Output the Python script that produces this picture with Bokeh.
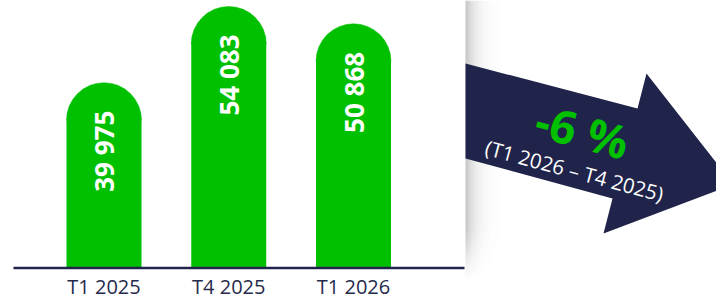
import math
from bokeh.plotting import figure
from bokeh.models import Range1d, ColumnDataSource
from bokeh.core.properties import value
from bokeh.embed import file_html
from bokeh.resources import INLINE

# ---- data ----
categories = ["T1 2025", "T4 2025", "T1 2026"]
values = [39975, 54083, 50868]

# ---- style / layout ----
GREEN = "#00c000"
NAVY = "#20244a"
LABEL_NAVY = "#262a4c"
W, H = 716, 300

BASE_VALUE = 5600          # value sitting on the baseline
UNITS_PER_PX = 185.0
BASE_PX_FROM_BOTTOM = 32
y_start = BASE_VALUE - BASE_PX_FROM_BOTTOM * UNITS_PER_PX
y_end = y_start + H * UNITS_PER_PX

X_PX_PER_UNIT = 124.75
X0_PX = 103.5
x_start = -X0_PX / X_PX_PER_UNIT
x_end = x_start + W / X_PX_PER_UNIT

R_PX = 37.5                 # cap radius (half bar width)
BAR_W = 2 * R_PX / X_PX_PER_UNIT

p = figure(width=W, height=H,
           x_range=Range1d(x_start, x_end), y_range=Range1d(y_start, y_end),
           x_axis_location=None, y_axis_location=None,
           output_backend="svg", toolbar_location=None, min_border=0,
           outline_line_color=None, background_fill_color="white",
           border_fill_color="white")
p.xgrid.visible = False
p.ygrid.visible = False
p.extra_x_ranges = {"px": Range1d(0, W)}
p.extra_y_ranges = {"px": Range1d(H, 0)}

# ---- panel shadow (decoration) ----
EDGE = 465
sl, sr, st, sb, sa = [], [], [], [], []
rows = [(0, 228, 1.0)]
for j in range(13):
    y0 = 228 + j * 4
    rows.append((y0, y0 + 4, max(0.0, 1.0 - (j + 0.5) / 13)))
for i in range(38):
    a = 0.24 * math.exp(-i / 9.0)
    for (y0, y1, f) in rows:
        sl.append(EDGE + i); sr.append(EDGE + i + 1)
        st.append(y0); sb.append(y1); sa.append(a * f)
p.quad(left=sl, right=sr, top=st, bottom=sb, fill_color="black", fill_alpha=sa,
       line_color=None, x_range_name="px", y_range_name="px")

# ---- arrow (decoration) ----
ax = [465, 637, 646, 733, 603, 612, 465]
ay = [63, 108, 73, 184, 233, 198, 158]
p.patch(ax, ay, fill_color=NAVY, line_color=None, x_range_name="px", y_range_name="px")

# ---- bars ----
idx = list(range(len(categories)))
cap_centers = [v - R_PX * UNITS_PER_PX for v in values]
src = ColumnDataSource(dict(
    x=idx, v=values, cap=cap_centers,
    body_top=[c + 1.0 * UNITS_PER_PX for c in cap_centers],
    label=[f"{v:,}".replace(",", " ") for v in values],
    cat=categories,
    base=[BASE_VALUE] * len(values),
))
p.vbar(x="x", width=BAR_W, bottom="base", top="body_top", source=src,
       fill_color=GREEN, line_color=None)
p.wedge(x="x", y="cap", radius=R_PX, radius_units="screen", start_angle=0,
        end_angle=math.pi, source=src, fill_color=GREEN, line_color=GREEN, line_width=0.5)

# value labels
p.text(x="x", y="v", text="label", source=src, angle=math.pi / 2,
       text_align="right", text_baseline="middle", y_offset=28,
       text_color="white", text_font=value("Open Sans"), text_font_style="bold",
       text_font_size="26px")

# baseline
p.segment(x0=[13], y0=[267.5], x1=[464], y1=[267.5], line_color=NAVY, line_width=2.5,
          x_range_name="px", y_range_name="px")

# category labels
p.text(x="x", y="base", text="cat", source=src, y_offset=4,
       text_align="center", text_baseline="top", text_color=LABEL_NAVY,
       text_font=value("Open Sans"), text_font_size="20px")

# ---- change annotation ----
pct = round((values[2] - values[1]) / values[1] * 100)
pct_label = f"{pct} %"
sub_label = f"({categories[2]} \u2013 {categories[1]})"
ang = -math.radians(15)
p.text(x=[582], y=[130], text=[pct_label], angle=ang, text_align="center",
       text_baseline="middle", text_color=GREEN, text_font=value("Open Sans"),
       text_font_style="bold", text_font_size="46px",
       x_range_name="px", y_range_name="px")
p.text(x=[574], y=[170], text=[sub_label], angle=ang, text_align="center",
       text_baseline="middle", text_color="white", text_font=value("Open Sans"),
       text_font_size="20.5px", x_range_name="px", y_range_name="px")

open("out.html", "w").write(file_html(p, INLINE))
